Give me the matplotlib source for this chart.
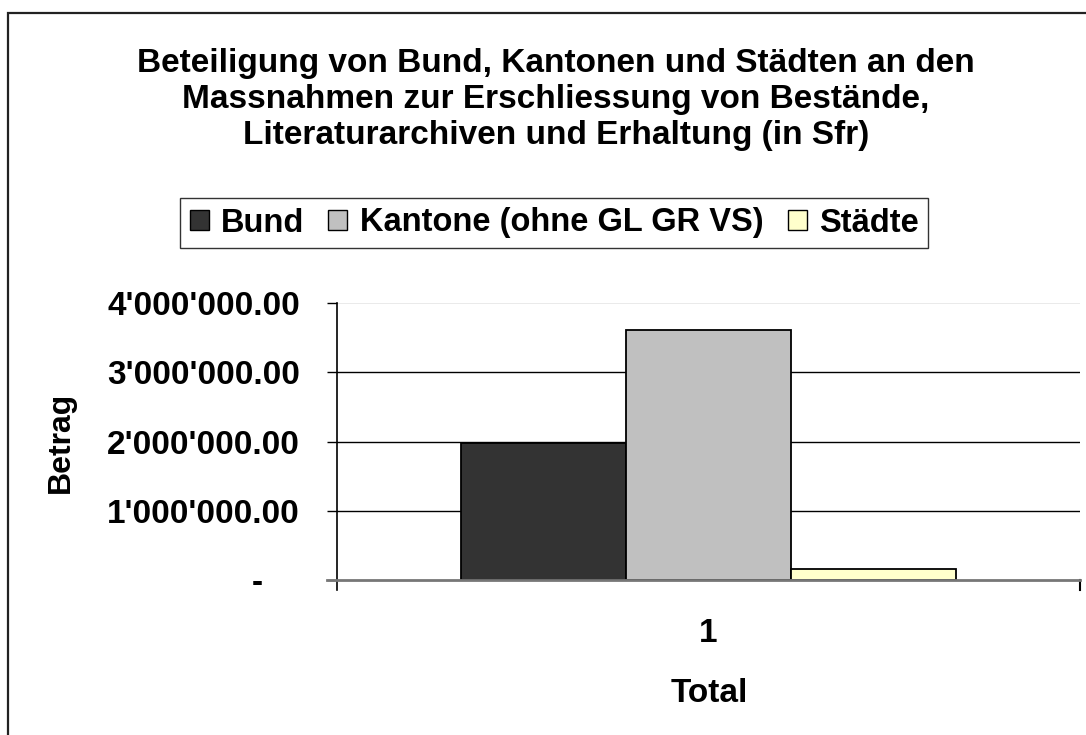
import matplotlib
matplotlib.use("Agg")
import matplotlib.pyplot as plt
from matplotlib.patches import Rectangle, Patch
from matplotlib.ticker import FuncFormatter

categories = ["1"]
series_names = ["Bund", "Kantone (ohne GL GR VS)", "Städte"]
series_values = [[1980000], [3610000], [160000]]
series_colors = ["#333333", "#C0C0C0", "#FFFFCC"]
yticks = [0, 1000000, 2000000, 3000000, 4000000]
title_lines = ["Beteiligung von Bund, Kantonen und Städten an den",
               "Massnahmen zur Erschliessung von Bestände,",
               "Literaturarchiven und Erhaltung (in Sfr)"]
x_title = "Total"
y_title = "Betrag"

W, H = 1086, 735
FS = 24
plt.rcParams['font.family'] = ['Liberation Sans', 'DejaVu Sans']
plt.rcParams['font.weight'] = 'bold'
fig = plt.figure(figsize=(W / 100, H / 100), dpi=100)

def fx(px):
    return px / W

def fy(py):
    return 1 - py / H

# outer frame
fig.patches.append(Rectangle((fx(8), -0.01), 1.1, fy(13) + 0.01, transform=fig.transFigure,
                             fill=False, edgecolor="#222222", linewidth=1.6))

ax = fig.add_axes([fx(337), fy(580), fx(1080) - fx(337), fy(303) - fy(580)])

bw = 1 / 4.5
xs = list(range(1, len(categories) + 1))
for i, (name, vals, col) in enumerate(zip(series_names, series_values, series_colors)):
    ax.bar([x + (i - 1) * bw for x in xs], vals, width=bw, color=col, edgecolor="black",
           linewidth=1.3, zorder=3, label=name)

ax.set_xlim(0.5, len(categories) + 0.5)
ax.set_ylim(0, 4000000)
ax.set_yticks(yticks)

def fmt(v, pos):
    if v == 0:
        return "-    "
    return f"{v:,.2f}".replace(",", "'")
ax.yaxis.set_major_formatter(FuncFormatter(fmt))

for y in yticks[1:-1]:
    ax.axhline(y, color="black", linewidth=1.0, zorder=1)
ax.axhline(yticks[-1], color="#e6e6e6", linewidth=1.2, zorder=1)

for s in ["top", "right", "bottom"]:
    ax.spines[s].set_visible(False)
ax.spines["left"].set_color("black")
ax.spines["left"].set_linewidth(1.2)
ax.spines["left"].set_bounds(-145000, 4000000)
ax.plot([0.5 - 0.0135, len(categories) + 0.5], [0, 0], color="#777777", linewidth=2.0,
        zorder=4, clip_on=False)
ax.plot([len(categories) + 0.5, len(categories) + 0.5], [0, -145000], color="black",
        linewidth=1.5, clip_on=False)

ax.tick_params(axis="y", direction="out", length=7.2, width=1.0, pad=19.5, labelsize=FS)
ax.set_xticks(xs)
ax.set_xticklabels(categories)
ax.tick_params(axis="x", length=0, pad=27.5, labelsize=FS)
for lab in ax.get_xticklabels() + ax.get_yticklabels():
    lab.set_fontweight("bold")

fig.text(fx(709), fy(702), x_title, ha="center", va="baseline", fontsize=FS, fontweight="bold")
fig.text(fx(61), fy(442), y_title, rotation=90, ha="center", va="center",
         fontsize=23, fontweight="bold")

for line, yb in zip(title_lines, [72, 108, 144]):
    fig.text(fx(556), fy(yb), line, ha="center", va="baseline", fontsize=FS, fontweight="bold")

handles = [Patch(facecolor=c, edgecolor="black", linewidth=1.0) for c in series_colors]
leg = fig.legend(handles, series_names, loc="center", bbox_to_anchor=(fx(554), fy(223)),
                 ncol=3, frameon=True, fancybox=False, edgecolor="black",
                 prop={"size": 23.5, "weight": "bold"}, handlelength=0.58, handleheight=0.58,
                 handletextpad=0.37, columnspacing=0.75, borderpad=0.3, borderaxespad=0)
leg.get_frame().set_linewidth(1.0)

fig.savefig("out.png", dpi=100)
